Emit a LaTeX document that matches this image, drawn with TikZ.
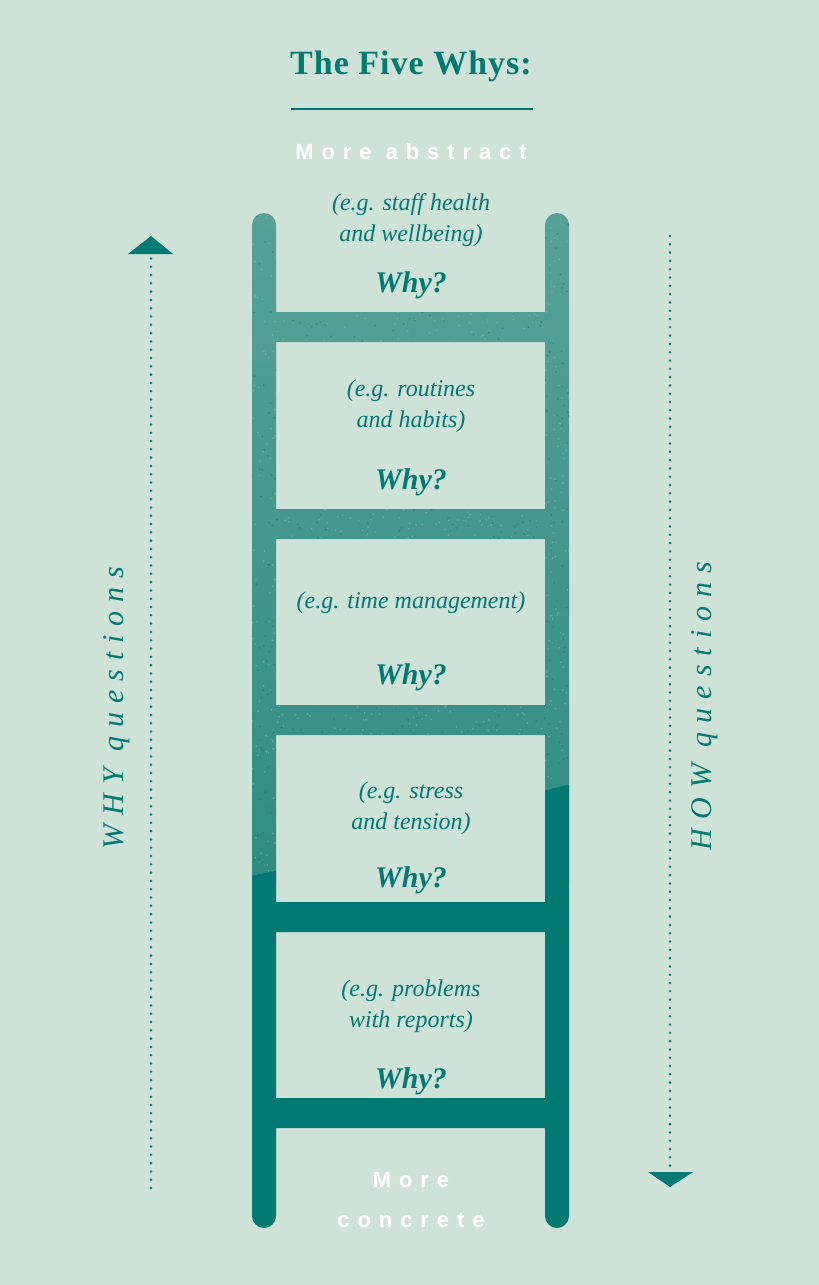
\documentclass[tikz,border=0pt]{standalone}
\usepackage{fontspec}
\setmainfont{Liberation Serif}
\newfontfamily\titleserif[LetterSpace=3]{Liberation Serif}
\newfontfamily\spacedsans[LetterSpace=36]{Liberation Sans}
\newfontfamily\spacedserif[LetterSpace=30]{Liberation Serif}
\definecolor{bg}{RGB}{207,226,216}
\definecolor{tealdk}{RGB}{0,122,115}
\definecolor{ltteal}{RGB}{88,162,152}
\definecolor{midteal}{RGB}{48,140,130}
\definecolor{speck}{RGB}{130,190,180}
\tikzset{
  extext/.style={font=\fontsize{24}{31}\selectfont\itshape, text=tealdk, align=center},
  whytext/.style={font=\fontsize{30}{32}\selectfont\bfseries\itshape, text=tealdk},
  sidetext/.style={font=\spacedserif\fontsize{30}{32}\selectfont\itshape, text=tealdk, rotate=90},
  endtext/.style={font=\spacedsans\fontsize{22}{40}\selectfont\bfseries, text=white, align=center},
  dotline/.style={tealdk, line width=2.8pt, line cap=round, dash pattern=on 0pt off 8.3pt},
}
\begin{document}
\begin{tikzpicture}[x=1pt,y=-1pt]
\fill[bg] (0,0) rectangle (819,1285);
\useasboundingbox (0,0) rectangle (819,1285);

% title
\node[font=\titleserif\fontsize{34}{38}\selectfont\bfseries, text=tealdk] (title) at (411,66) {The Five Whys:};
\draw[tealdk, line width=1.2pt] (291,109) -- (533,109);
\node[endtext] (abstract) at (411,152) {More abstract};

% ladder
\begin{scope}
\clip[rounded corners=12pt]
  (252,213) rectangle (276,1228)
  (545,213) rectangle (569,1228)
  (264,312) rectangle (557,342)
  (264,509) rectangle (557,539)
  (264,705) rectangle (557,735)
  (264,902) rectangle (557,932)
  (264,1098) rectangle (557,1128);
\shade[top color=ltteal, bottom color=midteal] (240,200) rectangle (580,880);
\pgfmathsetseed{7}
\foreach \i in {1,...,1400} {
  \fill[speck, opacity=0.55] (410+165*rand, 540+340*rand) circle (0.9pt);
}
\foreach \i in {1,...,900} {
  \fill[tealdk, opacity=0.45] (410+165*rand, 540+340*rand) circle (1pt);
}
\fill[tealdk] (240,878) -- (300,866) -- (420,820) -- (580,782) -- (580,1240) -- (240,1240) -- cycle;
\end{scope}

% box texts
\node[extext] (ex0) at (411,220) {(e.g. staff health\\and wellbeing)};
\node[whytext] (why0) at (411,285) {Why?};
\node[extext] (ex1) at (411,406) {(e.g. routines\\and habits)};
\node[whytext] (why1) at (411,482) {Why?};
\node[extext] (ex2) at (411,603) {(e.g. time management)};
\node[whytext] (why2) at (411,677) {Why?};
\node[extext] (ex3) at (411,808) {(e.g. stress\\and tension)};
\node[whytext] (why3) at (411,880) {Why?};
\node[extext] (ex4) at (411,1006) {(e.g. problems\\with reports)};
\node[whytext] (why4) at (411,1081) {Why?};

\node[endtext] (concrete) at (411,1200) {More\\concrete};

% side arrows
\coordinate (ltop) at (151,258);
\coordinate (lbot) at (151,1188);
\coordinate (ltip) at (151,236);
\draw[dotline] (lbot) -- (ltop);
\fill[tealdk] ([xshift=-23pt,yshift=-18pt]ltip) -- (ltip) -- ([xshift=22pt,yshift=-18pt]ltip) -- cycle;

\coordinate (rtop) at (670,236);
\coordinate (rbot) at (670,1170);
\coordinate (rtip) at (670,1187);
\draw[dotline] (rtop) -- (rbot);
\fill[tealdk] ([xshift=-22pt,yshift=15pt]rtip) -- (rtip) -- ([xshift=23pt,yshift=15pt]rtip) -- cycle;

\node[sidetext] (whyq) at (117,708) {WHY questions};
\node[sidetext] (howq) at (705,706) {HOW questions};
\end{tikzpicture}
\end{document}
